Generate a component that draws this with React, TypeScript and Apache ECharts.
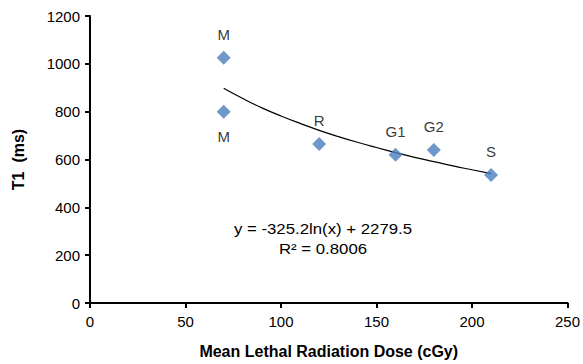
import React, { useEffect, useRef } from "react";
import * as echarts from "echarts";

const doseValues = [70, 70, 120, 160, 180, 210];
const t1Values = [1025, 800, 665, 620, 640, 535];
const pointLabels = ["M", "M", "R", "G1", "G2", "S"];
const labelPositions = ["top", "bottom", "top", "top", "top", "top"];

const trendX = [70, 80, 90, 100, 110, 120, 130, 140, 150, 160, 170, 180, 190, 200, 210];
const trendY = [898, 855, 816, 782, 751, 722, 696, 672, 650, 629, 609, 591, 573, 557, 541];

const xTicks = [0, 50, 100, 150, 200, 250];
const yTicks = [0, 200, 400, 600, 800, 1000, 1200];

const equationText = "y = -325.2ln(x) + 2279.5";
const r2Text = "R² = 0.8006";

const FONT = "'Liberation Sans', Arial, Helvetica, sans-serif";

export default function App() {
  const ref = useRef<HTMLDivElement>(null);
  useEffect(() => {
    if (!ref.current) return;
    const chart = echarts.init(ref.current, null, { renderer: "svg" });
    chart.setOption({
      animation: false,
      backgroundColor: "#ffffff",
      textStyle: { fontFamily: FONT },
      grid: { left: 90, right: 13, top: 16, bottom: 61 },
      xAxis: {
        type: "value",
        min: xTicks[0],
        max: xTicks[xTicks.length - 1],
        interval: 50,
        name: "Mean Lethal Radiation Dose (cGy)",
        nameLocation: "middle",
        nameGap: 40,
        nameTextStyle: { fontFamily: FONT, fontWeight: "bold", fontSize: 16, color: "#000" },
        axisLine: { show: true, lineStyle: { color: "#000", width: 2 } },
        axisTick: { show: true, length: 5, lineStyle: { color: "#000", width: 2 } },
        axisLabel: { color: "#000", fontSize: 15, fontFamily: FONT, margin: 11 },
        splitLine: { show: false },
      },
      yAxis: {
        type: "value",
        min: yTicks[0],
        max: yTicks[yTicks.length - 1],
        interval: 200,
        name: "T1  (ms)",
        nameLocation: "middle",
        nameGap: 64,
        nameRotate: 90,
        nameTextStyle: { fontFamily: FONT, fontWeight: "bold", fontSize: 16, color: "#000" },
        axisLine: { show: true, lineStyle: { color: "#000", width: 2 } },
        axisTick: { show: true, length: 5, lineStyle: { color: "#000", width: 2 } },
        axisLabel: {
          color: "#000",
          fontSize: 15,
          fontFamily: FONT,
          margin: 10,
          formatter: (v: number) => String(v),
        },
        splitLine: { show: false },
      },
      series: [
        {
          type: "line",
          data: trendX.map((x, i) => [x, trendY[i]]),
          showSymbol: false,
          symbol: "none",
          smooth: true,
          lineStyle: { color: "#000", width: 1.2 },
          z: 1,
        },
        {
          type: "scatter",
          symbol: "diamond",
          symbolSize: 14,
          itemStyle: { color: "#4A7EBB" },
          z: 3,
          data: doseValues.map((x, i) => ({
            value: [x, t1Values[i]],
            label: {
              show: true,
              position: labelPositions[i],
              distance: labelPositions[i] === "top" ? 9 : 10,
              formatter: pointLabels[i],
              color: "#000",
              fontSize: 15,
              fontFamily: FONT,
            },
          })),
        },
      ],
      graphic: [
        {
          type: "text",
          x: 323,
          y: 229,
          scaleX: 1.12,
          style: {
            text: equationText,
            fill: "#000",
            font: `15px ${FONT}`,
            textAlign: "center",
            textVerticalAlign: "middle",
          },
        },
        {
          type: "text",
          x: 323,
          y: 249,
          scaleX: 1.12,
          style: {
            text: r2Text,
            fill: "#000",
            font: `15px ${FONT}`,
            textAlign: "center",
            textVerticalAlign: "middle",
          },
        },
      ],
    });
    return () => chart.dispose();
  }, []);
  return <div ref={ref} style={{ width: 583, height: 364, position: "fixed", left: 0, top: 0 }} />;
}
